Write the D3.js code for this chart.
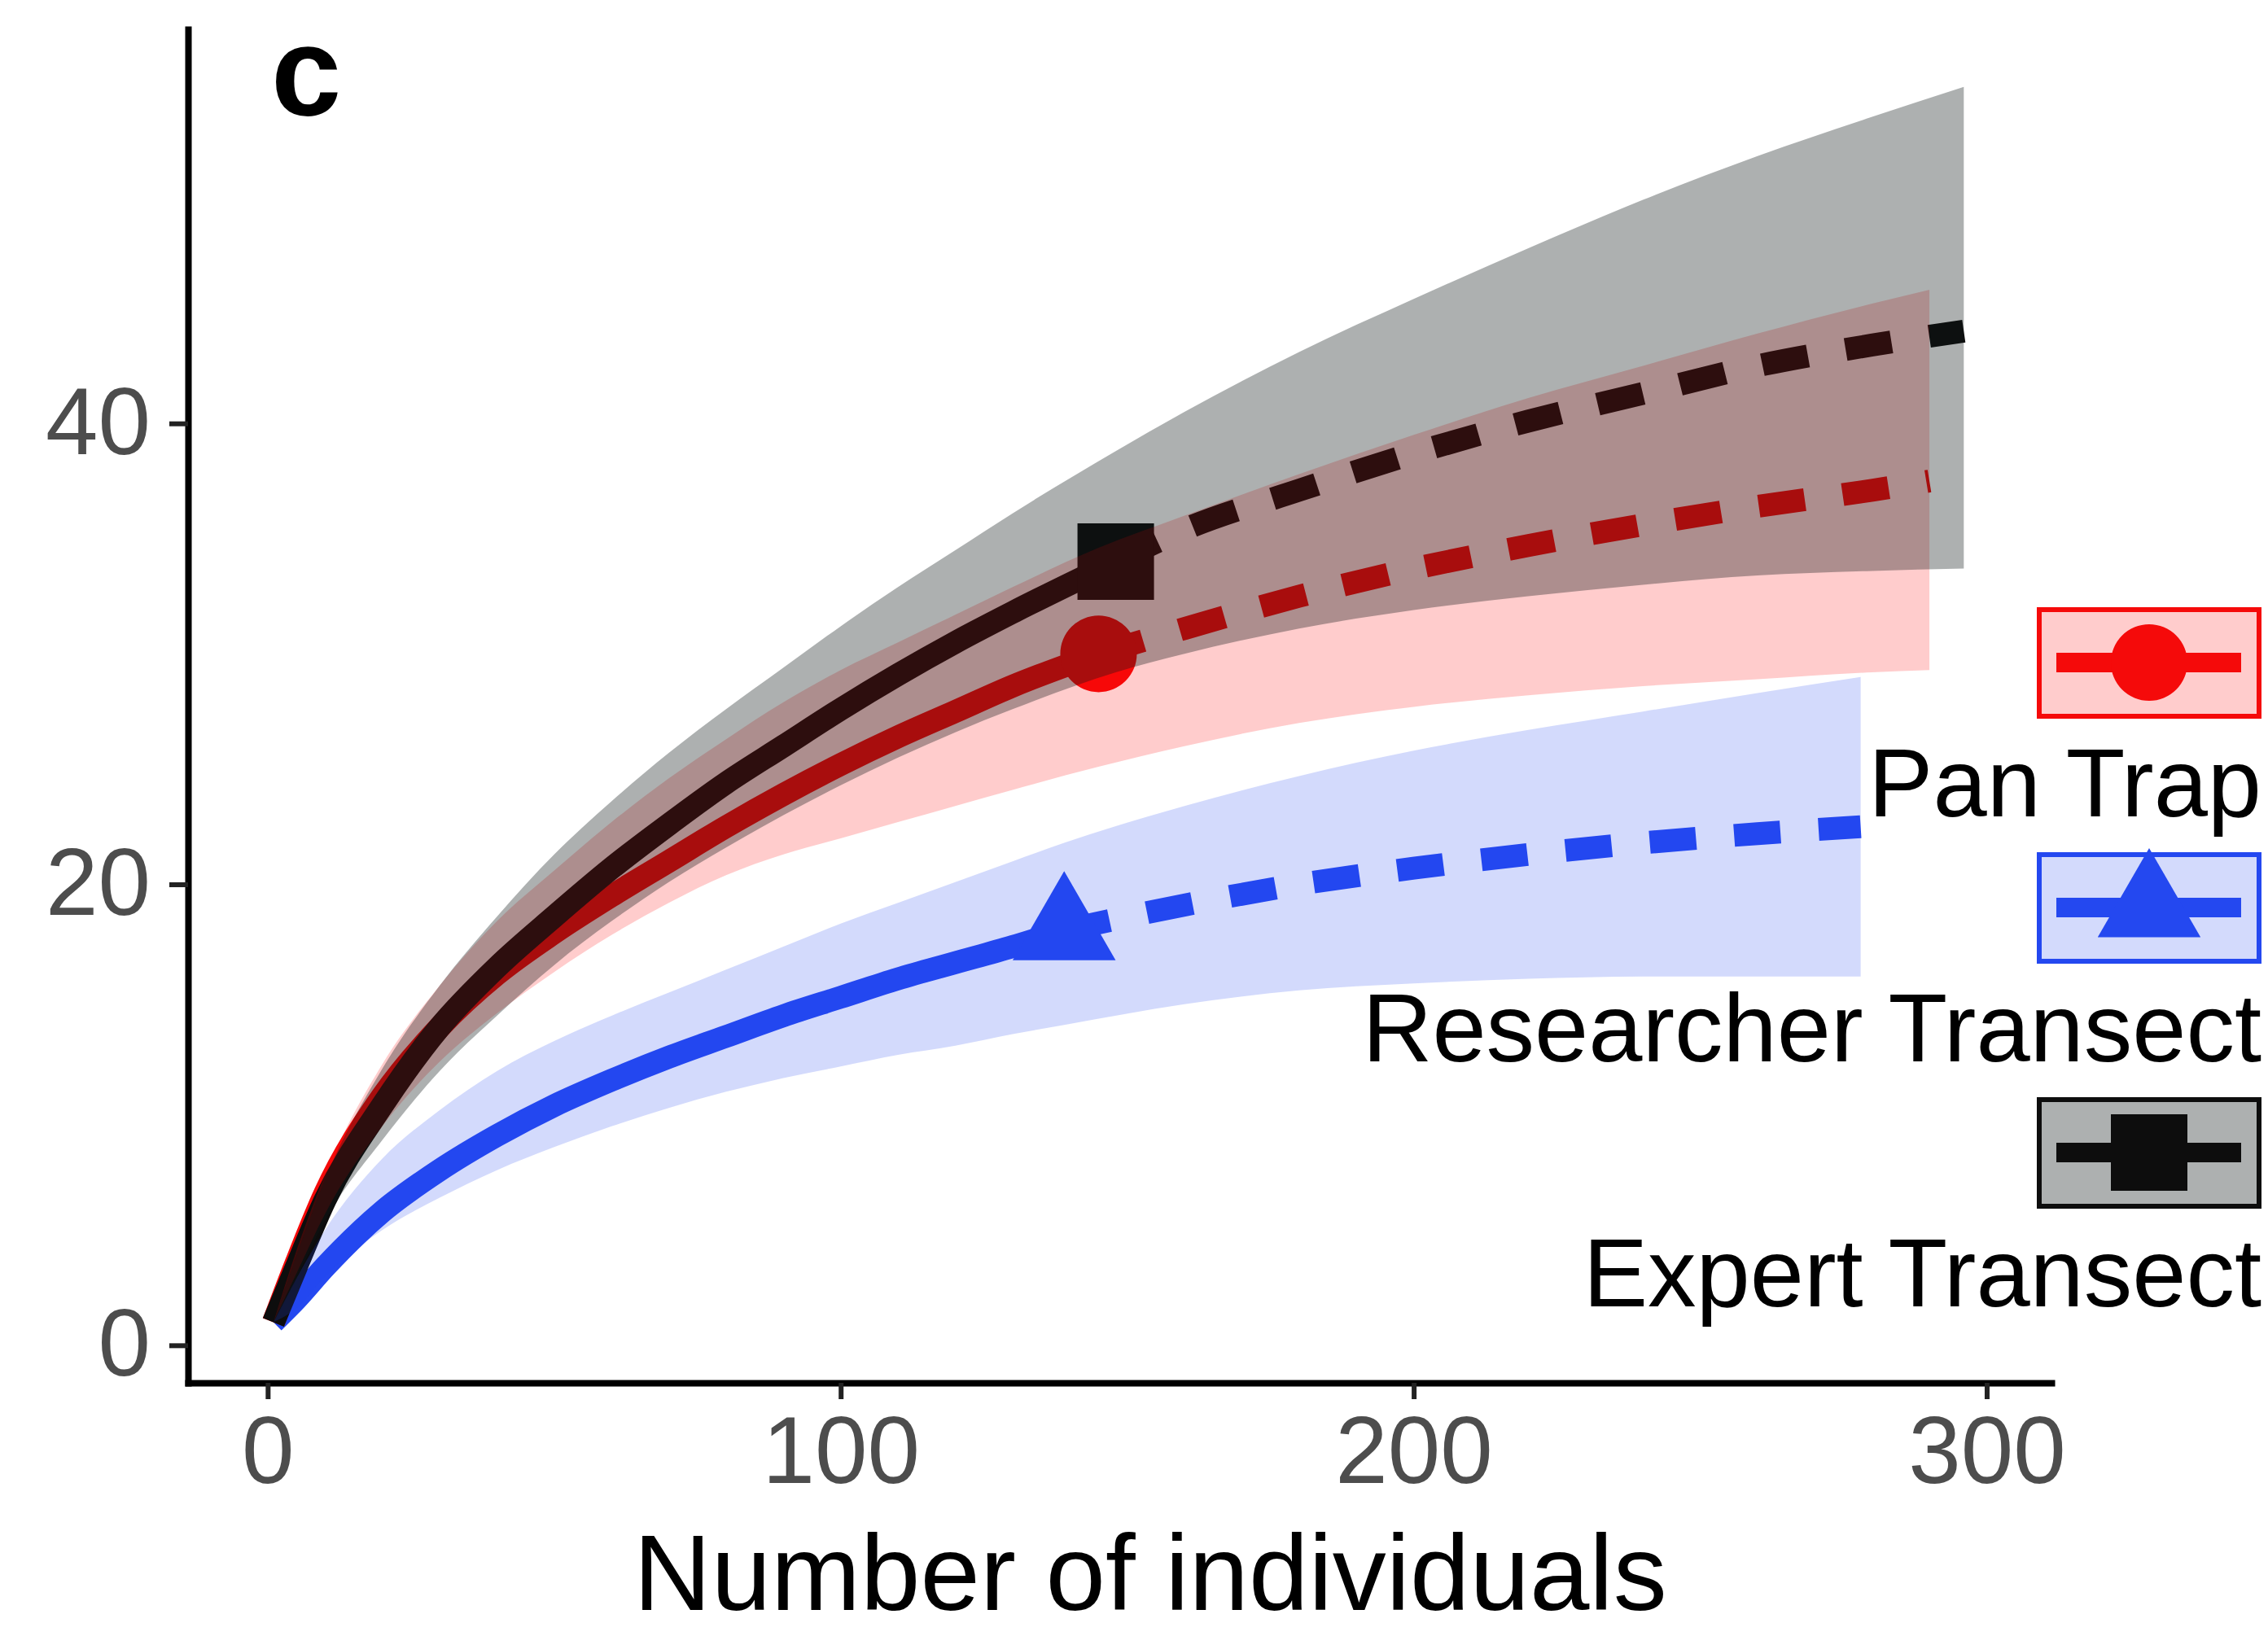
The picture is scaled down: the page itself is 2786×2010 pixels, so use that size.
<!DOCTYPE html>
<html lang="en">
<head>
<meta charset="UTF-8">
<title>Rarefaction curves</title>
<script src="https://d3js.org/d3.v7.min.js"></script>
<style>
  body { margin: 0; background: #fff; }
  svg text { font-family: "Liberation Sans", Arial, Helvetica, sans-serif; }
</style>
</head>
<body>
<div id="chart"></div>
<script>
// values
const xTicks = [0, 100, 200, 300];
const yTicks = [0, 20, 40];
const seriesNames = ["Pan Trap", "Researcher Transect", "Expert Transect"];
const observedN = [145, 139, 148];

const panX  = [1, 5, 10, 20, 30, 40, 50, 60, 70, 80, 90, 100, 110, 120, 130, 145, 160, 180, 200, 220, 240, 260, 280, 290];
const panY  = [1, 3.6, 6.6, 10.8, 13.8, 16.1, 17.9, 19.5, 21.0, 22.5, 23.9, 25.2, 26.4, 27.5, 28.6, 30.0, 31.1, 32.5, 33.7, 34.7, 35.6, 36.4, 37.1, 37.5];
const panLo = [1, 3.1, 5.7, 9.5, 12.3, 14.4, 16.2, 17.8, 19.2, 20.4, 21.3, 22.0, 22.7, 23.4, 24.1, 25.1, 26.0, 27.0, 27.7, 28.2, 28.6, 28.9, 29.2, 29.3];
const panHi = [1, 4.1, 7.4, 12.2, 15.6, 18.4, 20.6, 22.7, 24.6, 26.3, 27.9, 29.3, 30.5, 31.7, 32.9, 34.6, 36.0, 37.8, 39.5, 41.1, 42.5, 43.9, 45.2, 45.8];

const resX  = [1, 5, 10, 20, 30, 40, 50, 60, 70, 80, 90, 100, 110, 120, 130, 139, 160, 180, 200, 220, 240, 260, 278];
const resY  = [1, 2.0, 3.4, 5.8, 7.6, 9.1, 10.4, 11.5, 12.5, 13.4, 14.3, 15.1, 15.9, 16.6, 17.3, 18.0, 19.1, 20.0, 20.7, 21.3, 21.8, 22.2, 22.5];
const resLo = [1, 1.6, 3.0, 5.0, 6.4, 7.6, 8.6, 9.5, 10.3, 11.0, 11.6, 12.1, 12.6, 13.0, 13.5, 13.9, 14.8, 15.4, 15.7, 15.9, 16.0, 16.0, 16.0];
const resHi = [1, 2.9, 5.0, 8.1, 10.2, 11.9, 13.2, 14.3, 15.3, 16.3, 17.3, 18.3, 19.2, 20.1, 21.0, 21.8, 23.4, 24.7, 25.8, 26.7, 27.5, 28.3, 29.0];

const expX  = [1, 5, 10, 20, 30, 40, 50, 60, 70, 80, 90, 100, 110, 120, 130, 148, 160, 180, 200, 220, 240, 260, 280, 296];
const expY  = [1, 3.4, 6.3, 10.4, 13.8, 16.4, 18.6, 20.7, 22.6, 24.4, 26.0, 27.6, 29.1, 30.5, 31.8, 34.0, 35.4, 37.1, 38.7, 40.1, 41.3, 42.5, 43.4, 44.0];
const expLo = [1, 2.9, 5.4, 8.9, 11.9, 14.3, 16.5, 18.4, 20.1, 21.6, 23.0, 24.3, 25.5, 26.6, 27.6, 29.2, 30.0, 31.1, 31.9, 32.5, 33.0, 33.4, 33.6, 33.7];
const expHi = [1, 3.9, 7.2, 12.0, 15.6, 18.6, 21.3, 23.6, 25.7, 27.6, 29.4, 31.2, 32.9, 34.5, 36.1, 38.8, 40.5, 43.1, 45.4, 47.6, 49.7, 51.6, 53.3, 54.6];

// styling per series
const colors = ["#f50a0a", "#2448f0", "#0d0d0d"];
const ribbonFill = ["#ff0000", "#2448f0", "#0f1818"];
const ribbonOpacity = [0.2, 0.2, 0.34];
const shapes = [d3.symbolCircle, d3.symbolTriangle, d3.symbolSquare];
const shapeSize = [6940, 6920, 8836];

const series = seriesNames.map((name, i) => {
    const xs = [panX, resX, expX][i];
    const ys = [panY, resY, expY][i];
    const lo = [panLo, resLo, expLo][i];
    const hi = [panHi, resHi, expHi][i];
    return {
        name, n: observedN[i], color: colors[i], fill: ribbonFill[i],
        opacity: ribbonOpacity[i], shape: shapes[i], size: shapeSize[i],
        pts: xs.map((v, j) => ({ x: v, y: ys[j], lo: lo[j], hi: hi[j] }))
    };
});

// layout
const W = 2786, H = 2010;
const svg = d3.select("#chart").append("svg")
    .attr("width", W).attr("height", H)
    .style("display", "block");

const x = d3.scaleLinear().domain([-13.9, 311.3]).range([231, 2520]);
const y = d3.scaleLinear().domain([-1.63, 57.1]).range([1699, 36]);

const line = d3.line().x(d => x(d.x)).y(d => y(d.y)).curve(d3.curveMonotoneX);
const area = d3.area().x(d => x(d.x)).y0(d => y(d.lo)).y1(d => y(d.hi)).curve(d3.curveMonotoneX);

// lines: blue, red, black (black sits on top)
const lineOrder = [1, 0, 2];
lineOrder.forEach(i => {
    const s = series[i];
    svg.append("path")
        .datum(s.pts.filter(d => d.x <= s.n))
        .attr("d", line)
        .attr("fill", "none")
        .attr("stroke", s.color)
        .attr("stroke-width", 28);
    svg.append("path")
        .datum(s.pts.filter(d => d.x >= s.n))
        .attr("d", line)
        .attr("fill", "none")
        .attr("stroke", s.color)
        .attr("stroke-width", 28)
        .attr("stroke-dasharray", "57,47");
});

// observed points
lineOrder.forEach(i => {
    const s = series[i];
    const obs = s.pts.find(d => d.x === s.n);
    svg.append("path")
        .attr("d", d3.symbol().type(s.shape).size(s.size)())
        .attr("transform", `translate(${x(obs.x)},${y(obs.y)})`)
        .attr("fill", s.color);
});

// ribbons drawn over the lines, as in the original (pink, blue, then grey)
[0, 1, 2].forEach(i => {
    const s = series[i];
    svg.append("path")
        .datum(s.pts)
        .attr("d", area)
        .attr("fill", s.fill)
        .attr("fill-opacity", s.opacity);
});

// axes
const xAxis = svg.append("g")
    .attr("transform", `translate(0,${y.range()[0]})`)
    .call(d3.axisBottom(x).tickValues(xTicks).tickSize(20).tickSizeOuter(0).tickPadding(21));
const yAxis = svg.append("g")
    .attr("transform", `translate(${x.range()[0]},0)`)
    .call(d3.axisLeft(y).tickValues(yTicks).tickSize(23).tickSizeOuter(0).tickPadding(23));

[xAxis, yAxis].forEach(g => {
    g.attr("font-family", null).attr("font-size", null);
    g.select(".domain").attr("stroke", "#000").attr("stroke-width", 8).attr("stroke-linecap", "square");
    g.selectAll(".tick line").attr("stroke", "#222").attr("stroke-width", 6);
    g.selectAll(".tick text").attr("fill", "#4d4d4d").style("font-size", "116px");
});

// axis title and panel tag
svg.append("text")
    .attr("x", 1413).attr("y", 1978)
    .attr("text-anchor", "middle")
    .style("font-size", "132px")
    .attr("fill", "#000")
    .text("Number of individuals");

svg.append("text")
    .attr("x", 333).attr("y", 141)
    .style("font-size", "155px")
    .style("font-weight", "bold")
    .attr("fill", "#000")
    .text("c");

// legend
const legendTop = 746, legendStep = 301;
series.forEach((s, i) => {
    const top = legendTop + i * legendStep;
    const cy = top + 68;
    const g = svg.append("g");
    g.append("rect")
        .attr("x", 2505).attr("y", top + 3)
        .attr("width", 270).attr("height", 131)
        .attr("fill", "#fff");
    g.append("rect")
        .attr("x", 2505).attr("y", top + 3)
        .attr("width", 270).attr("height", 131)
        .attr("fill", s.fill).attr("fill-opacity", s.opacity)
        .attr("stroke", s.color).attr("stroke-width", 6);
    g.append("line")
        .attr("x1", 2526).attr("x2", 2753)
        .attr("y1", cy).attr("y2", cy)
        .attr("stroke", s.color).attr("stroke-width", 24);
    g.append("path")
        .attr("d", d3.symbol().type(s.shape).size(s.size)())
        .attr("transform", `translate(2640,${cy})`)
        .attr("fill", s.color);
    g.append("text")
        .attr("x", 2778).attr("y", top + 257)
        .attr("text-anchor", "end")
        .style("font-size", "119px")
        .attr("fill", "#000")
        .text(s.name);
});
</script>
</body>
</html>
